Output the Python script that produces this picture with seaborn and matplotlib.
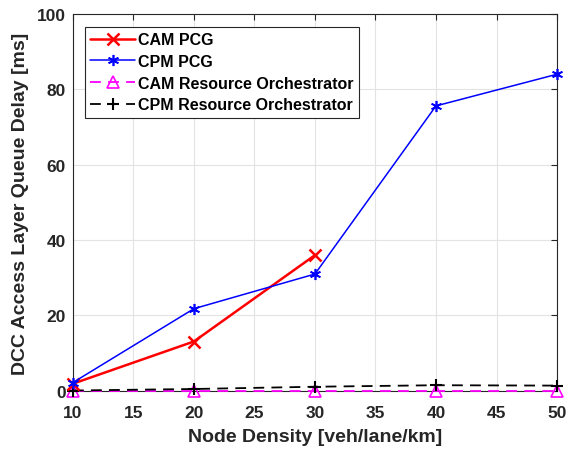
import matplotlib
matplotlib.use("Agg")
import matplotlib.pyplot as plt
import seaborn as sns

# node density values
density = [10, 20, 30, 40, 50]

cam_pcg_density = [10, 20, 30]
cam_pcg = [1.9, 13.1, 36.0]
cpm_pcg = [2.2, 21.8, 31.0, 75.6, 84.0]
cam_ro = [0.05, 0.05, 0.05, 0.05, 0.05]
cpm_ro = [0.1, 0.5, 1.1, 1.5, 1.4]

TXT = '#262626'

sns.set_style("whitegrid")
plt.rcParams['font.family'] = ['Liberation Sans', 'DejaVu Sans']
plt.rcParams['font.weight'] = 'bold'

fig = plt.figure(figsize=(5.69, 4.52), dpi=100)
ax = fig.add_axes([0.128, 0.133, 0.851, 0.834])

sns.lineplot(x=cam_pcg_density, y=cam_pcg, ax=ax, color='red', marker='x',
             markersize=8, markeredgecolor='red', markeredgewidth=1.8,
             linewidth=1.8, label='CAM PCG', clip_on=False, zorder=4)
sns.lineplot(x=density, y=cpm_pcg, ax=ax, color='blue', marker=(6, 2, 0),
             markersize=8, markeredgecolor='blue', markeredgewidth=1.2,
             linewidth=1.1, label='CPM PCG', clip_on=False, zorder=5)
sns.lineplot(x=density, y=cam_ro, ax=ax, color='magenta', marker='^',
             markersize=8, markerfacecolor='none', markeredgecolor='magenta',
             markeredgewidth=1.2, linestyle=(0, (6, 4)), linewidth=1.3,
             label='CAM Resource Orchestrator', clip_on=False, zorder=3)
sns.lineplot(x=density, y=cpm_ro, ax=ax, color='black', marker='+',
             markersize=9, markeredgecolor='black', markeredgewidth=1.5,
             linestyle=(0, (6, 4)), linewidth=1.3, label='CPM Resource Orchestrator',
             clip_on=False, zorder=3)

ax.set_xlim(10, 50)
ax.set_ylim(0, 100)
ax.set_xticks(range(10, 51, 5))
ax.set_yticks(range(0, 101, 20))
ax.grid(True, color='#e3e3e3', linewidth=0.8)
for s in ax.spines.values():
    s.set_color(TXT)
    s.set_linewidth(0.8)
ax.tick_params(direction='in', length=4, labelsize=12.5, colors=TXT,
               top=True, right=True)
ax.tick_params(axis='x', pad=10)
ax.tick_params(axis='y', pad=5)
for lbl in ax.get_xticklabels() + ax.get_yticklabels():
    lbl.set_fontweight('bold')

ax.set_xlabel('Node Density [veh/lane/km]', fontsize=14, fontweight='bold',
              color=TXT, labelpad=6)
ax.set_ylabel('DCC Access Layer Queue Delay [ms]', fontsize=14, fontweight='bold',
              color=TXT, labelpad=6)

leg = ax.legend(loc='upper left', bbox_to_anchor=(0.018, 0.975), fontsize=11.5,
                frameon=True, fancybox=False, edgecolor=TXT, framealpha=1,
                handlelength=2.8, handletextpad=0.2, borderpad=0.35,
                labelspacing=0.42, borderaxespad=0.2)
leg.get_frame().set_linewidth(0.8)
for t in leg.get_texts():
    t.set_fontweight('bold')
    t.set_color('black')

fig.savefig('out.png', dpi=100)
